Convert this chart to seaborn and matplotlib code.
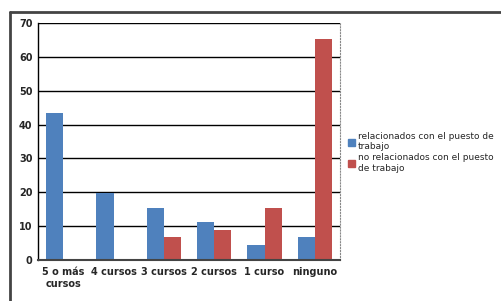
import matplotlib
matplotlib.use("Agg")
import matplotlib.pyplot as plt
import seaborn as sns
import pandas as pd
from matplotlib.lines import Line2D

categories = ["5 o más\ncursos", "4 cursos", "3 cursos", "2 cursos", "1 curso", "ninguno"]
relacionados = [43.4, 19.8, 15.4, 11.2, 4.4, 6.8]
no_relacionados = [0, 0, 6.8, 8.9, 15.4, 65.3]
series_names = ["relacionados con el puesto de\ntrabajo", "no relacionados con el puesto\nde trabajo"]
yticks = [0, 10, 20, 30, 40, 50, 60, 70]

df = pd.DataFrame({
    "cat": categories * 2,
    "val": relacionados + no_relacionados,
    "serie": [series_names[0]] * 6 + [series_names[1]] * 6,
})

sns.set_style("white")
plt.rcParams["font.family"] = ["DejaVu Sans"]

fig = plt.figure(figsize=(5.01, 3.01), dpi=100)
ax = fig.add_axes([38 / 501, 41 / 301, 302 / 501, 237 / 301])

sns.barplot(data=df, x="cat", y="val", hue="serie", order=categories,
            hue_order=series_names, palette=["#4F81BD", "#C0504D"], saturation=1,
            width=0.68, gap=0, ax=ax, legend=False, errorbar=None, linewidth=0)

ax.set_ylim(0, 70)
ax.set_xlim(-0.5, 5.5)
ax.set_yticks(yticks)
ax.set_yticklabels([str(v) for v in yticks], fontsize=7, fontweight="bold")
ax.set_xticks(range(6))
ax.set_xticklabels(categories, fontsize=7, fontweight="bold")
ax.set_xticks([i - 0.5 for i in range(7)], minor=True)
ax.tick_params(axis="x", which="major", length=0, pad=5)
ax.tick_params(axis="x", which="minor", length=4, width=1, color="black", direction="out")
ax.tick_params(axis="y", length=3, width=1, color="black", direction="out", pad=1)
ax.set_xlabel("")
ax.set_ylabel("")
ax.grid(axis="y", color="black", linewidth=1)
ax.set_axisbelow(True)
ax.spines["top"].set_visible(False)
ax.spines["right"].set_linestyle(":")
ax.spines["right"].set_color("#888888")
ax.spines["right"].set_linewidth(0.8)
ax.spines["left"].set_color("black")
ax.spines["left"].set_linewidth(1)
ax.spines["bottom"].set_color("#444444")
ax.spines["bottom"].set_linewidth(1.5)

# outer frame lines
fig.add_artist(Line2D([10 / 501, 10 / 501], [0, 1 - 12 / 301], color="#444444", linewidth=2, transform=fig.transFigure))
fig.add_artist(Line2D([10 / 501, 1], [1 - 12 / 301, 1 - 12 / 301], color="#444444", linewidth=2, transform=fig.transFigure))

handles = [plt.Rectangle((0, 0), 1, 1, color="#4F81BD"), plt.Rectangle((0, 0), 1, 1, color="#C0504D")]
fig.legend(handles, series_names, loc="upper left", bbox_to_anchor=(348 / 501, 1 - 132 / 301),
           frameon=False, fontsize=6.5, handlelength=0.8, handleheight=0.8,
           handletextpad=0.3, labelspacing=0.2, borderaxespad=0, borderpad=0)

fig.savefig("out.png", dpi=100)
